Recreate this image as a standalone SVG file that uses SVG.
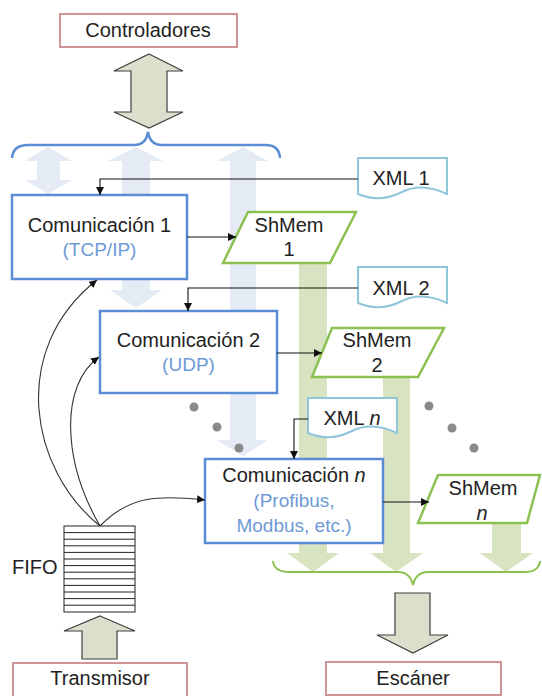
<svg xmlns="http://www.w3.org/2000/svg" width="542" height="696" viewBox="0 0 542 696">
<style>
text{font-family:"Liberation Sans",Arial,sans-serif;font-size:20px;fill:#222}
.c{text-anchor:middle}
.sub{fill:#6d9ad6;font-size:19px}
.it{font-style:italic}
.bg-blue{fill:#e4ebf5}
.bg-green{fill:#d8e3c1}
.big{fill:#dcdfcb;stroke:#3f3f3f;stroke-width:1.2}
.red{fill:#fff;stroke:#cf9496;stroke-width:2}
.blue{fill:#fff;stroke:#5b8dd4;stroke-width:2.5}
.green{fill:#fff;stroke:#8cc152;stroke-width:2.5}
.doc{fill:#fff;stroke:#8fc6da;stroke-width:2}
.ln{fill:none;stroke:#111;stroke-width:1.1}
.cv{fill:none;stroke:#333;stroke-width:1.1}
.dot{fill:#8a8a8a}
</style>
<defs>
<marker id="ah" viewBox="0 0 10 10" refX="10" refY="5" markerWidth="8" markerHeight="8" markerUnits="userSpaceOnUse" orient="auto">
<path d="M0,0 L10,5 L0,10 Z" fill="#111"/>
</marker>
</defs>

<g id="background">
<polygon class="bg-blue" points="48,147 72,161 60,161 60,180 72,180 48,194 25,180 37,180 37,161 25,161"/>
<polygon class="bg-blue" points="136,147 163,161 150,161 150,290 162,290 136,308 110,290 122,290 122,161 108,161"/>
<polygon class="bg-blue" points="243,147 268,161 256,161 256,440 268,440 243,456 217,440 230,440 230,161 217,161"/>
<polygon class="bg-green" points="299,263 327,263 327,553 339,553 313,572 287,553 299,553"/>
<polygon class="bg-green" points="383,377 410,377 410,553 423,553 396,572 370,553 383,553"/>
<polygon class="bg-green" points="492,523 521,523 521,553 533,553 506,572 480,553 492,553"/>
<path d="M12,158 Q13,145 28,145 H134 Q146,145 148,132 Q150,145 162,145 H266 Q279,145 280,158" fill="none" stroke="#5b8dd4" stroke-width="2.5"/>
<path d="M273,561 Q274,572 290,572 H398 Q410,572 413,585 Q416,572 428,572 H524 Q539,572 540,561" fill="none" stroke="#8cc152" stroke-width="2"/>
</g>

<g id="controladores">
<rect class="red" x="60" y="14" width="177" height="33"/>
<text class="c" x="148" y="37">Controladores</text>
</g>
<g id="arrow-controladores">
<polygon class="big" points="149,54 183,71 167,71 167,112 183,112 149,128 114,112 131,112 131,71 114,71"/>
</g>

<g id="comm1">
<rect class="blue" x="12" y="195" width="175" height="84"/>
<text class="c" x="99.5" y="232">Comunicación 1</text>
<text class="c sub" x="99.5" y="256">(TCP/IP)</text>
</g>
<g id="comm2">
<rect class="blue" x="100" y="311" width="177" height="82"/>
<text class="c" x="188.5" y="347">Comunicación 2</text>
<text class="c sub" x="188.5" y="371">(UDP)</text>
</g>
<g id="commn">
<rect class="blue" x="205" y="459" width="178" height="84"/>
<text class="c" x="294" y="482">Comunicación <tspan class="it">n</tspan></text>
<text class="c sub" x="294" y="507">(Profibus,</text>
<text class="c sub" x="294" y="532">Modbus, etc.)</text>
</g>

<g id="shmem1">
<polygon class="green" points="248,212 356,212 330,263 223,263"/>
<text class="c" x="289" y="232">ShMem</text>
<text class="c" x="289" y="256">1</text>
</g>
<g id="shmem2">
<polygon class="green" points="332,328 444,328 418,377 312,377"/>
<text class="c" x="377" y="347">ShMem</text>
<text class="c" x="377" y="372">2</text>
</g>
<g id="shmemn">
<polygon class="green" points="438,475 540,475 527,523 418,523"/>
<text class="c" x="483" y="495">ShMem</text>
<text class="c it" x="482" y="520">n</text>
</g>

<g id="xml1">
<path class="doc" d="M358,158 H447 V194 C430,186 414,186 402,192 C388,199 372,200 358,194 Z"/>
<text class="c" x="401" y="185">XML 1</text>
</g>
<g id="xml2">
<path class="doc" d="M358,267 H447 V303 C430,295 414,295 402,301 C388,308 372,309 358,303 Z"/>
<text class="c" x="401" y="295">XML 2</text>
</g>
<g id="xmln">
<path class="doc" d="M308,398 H397 V433 C380,425 364,425 352,431 C338,438 322,439 308,433 Z"/>
<text class="c" x="352" y="425">XML <tspan class="it">n</tspan></text>
</g>

<g id="fifo">
<rect x="64" y="526" width="71" height="86" fill="#fff" stroke="#222" stroke-width="1"/>
<path d="M64,532.6 H135 M64,539.2 H135 M64,545.8 H135 M64,552.4 H135 M64,559 H135 M64,565.6 H135 M64,572.2 H135 M64,578.8 H135 M64,585.4 H135 M64,592 H135 M64,598.6 H135 M64,605.2 H135" stroke="#222" stroke-width="1"/>
<text x="12" y="574">FIFO</text>
</g>
<g id="arrow-transmisor">
<polygon class="big" points="100,616 135,631 117,631 117,659 82,659 82,631 64,631"/>
</g>
<g id="transmisor">
<rect class="red" x="13" y="663" width="174" height="36"/>
<text class="c" x="100" y="685">Transmisor</text>
</g>

<g id="arrow-escaner">
<polygon class="big" points="395,593 430,593 430,635 448,635 413,653 377,635 395,635"/>
</g>
<g id="escaner">
<rect class="red" x="326" y="662" width="175" height="33"/>
<text class="c" x="413" y="685">Escáner</text>
</g>

<g id="connectors">
<path class="ln" d="M358,179 H100 V195" marker-end="url(#ah)"/>
<path class="ln" d="M187,237 H236" marker-end="url(#ah)"/>
<path class="ln" d="M358,288 H188 V311" marker-end="url(#ah)"/>
<path class="ln" d="M277,353 H322" marker-end="url(#ah)"/>
<path class="ln" d="M308,419 H294 V459" marker-end="url(#ah)"/>
<path class="ln" d="M383,502 H429" marker-end="url(#ah)"/>
<path class="cv" d="M100,526 C30,470 8,350 97,280" marker-end="url(#ah)"/>
<path class="cv" d="M100,526 C62,460 60,385 99,357" marker-end="url(#ah)"/>
<path class="cv" d="M100,526 C130,495 160,495 205,500" marker-end="url(#ah)"/>
</g>

<g id="dots">
<circle class="dot" cx="194" cy="407" r="4.5"/>
<circle class="dot" cx="217" cy="427" r="4.5"/>
<circle class="dot" cx="239" cy="448" r="4.5"/>
<circle class="dot" cx="429" cy="406" r="4.5"/>
<circle class="dot" cx="452" cy="428" r="4.5"/>
<circle class="dot" cx="474" cy="448" r="4.5"/>
</g>
</svg>
